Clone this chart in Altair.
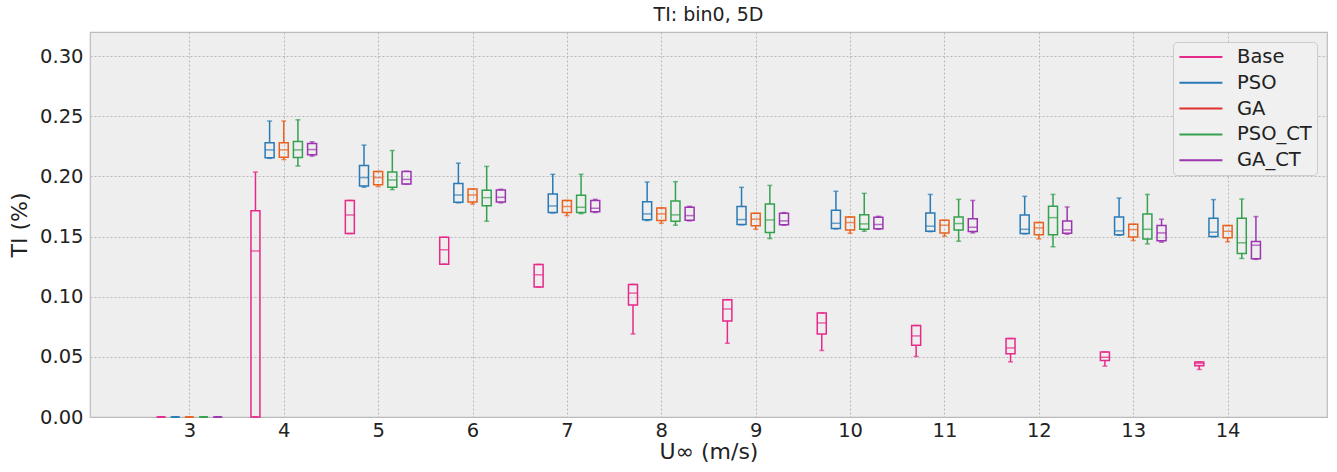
import altair as alt
import pandas as pd

speeds = [3, 4, 5, 6, 7, 8, 9, 10, 11, 12, 13, 14]
series = ["Base", "PSO", "GA", "PSO_CT", "GA_CT"]

# per series: [low whisker, q1, median, q3, high whisker] for each speed
base = [
    [0, 0, 0, 0, 0],
    [0, 0, 0.138, 0.1715, 0.2036],
    [0.1525, 0.1525, 0.168, 0.180, 0.180],
    [0.127, 0.127, 0.139, 0.1494, 0.1494],
    [0.108, 0.108, 0.1182, 0.1268, 0.1268],
    [0.069, 0.093, 0.103, 0.1102, 0.1102],
    [0.0613, 0.0798, 0.0898, 0.0975, 0.0975],
    [0.0553, 0.069, 0.0782, 0.0865, 0.0865],
    [0.0503, 0.0597, 0.0674, 0.076, 0.076],
    [0.0458, 0.0525, 0.0574, 0.0652, 0.0652],
    [0.0423, 0.047, 0.0497, 0.0541, 0.0541],
    [0.0395, 0.0425, 0.0445, 0.0458, 0.0458],
]
pso = [
    [0, 0, 0, 0, 0],
    [0.215, 0.2155, 0.222, 0.228, 0.246],
    [0.191, 0.192, 0.199, 0.209, 0.226],
    [0.178, 0.1785, 0.1845, 0.194, 0.211],
    [0.1695, 0.170, 0.1754, 0.1853, 0.2017],
    [0.1633, 0.164, 0.1688, 0.179, 0.1953],
    [0.1597, 0.160, 0.1641, 0.1749, 0.1909],
    [0.1563, 0.1566, 0.161, 0.1718, 0.1876],
    [0.1541, 0.1544, 0.1586, 0.1696, 0.185],
    [0.1522, 0.1525, 0.156, 0.168, 0.1834],
    [0.1511, 0.1514, 0.1547, 0.1663, 0.182],
    [0.1497, 0.150, 0.1536, 0.1652, 0.1807],
]
ga = [
    [0, 0, 0, 0, 0],
    [0.214, 0.216, 0.222, 0.228, 0.246],
    [0.1915, 0.193, 0.199, 0.204, 0.204],
    [0.177, 0.1787, 0.1845, 0.1895, 0.1895],
    [0.1674, 0.170, 0.1749, 0.180, 0.180],
    [0.161, 0.1633, 0.1688, 0.1738, 0.1738],
    [0.156, 0.1589, 0.1644, 0.1693, 0.1693],
    [0.1527, 0.1555, 0.1616, 0.1663, 0.1663],
    [0.1503, 0.153, 0.1594, 0.1635, 0.1635],
    [0.148, 0.1514, 0.1572, 0.1616, 0.1616],
    [0.1467, 0.1497, 0.1558, 0.1602, 0.1602],
    [0.1456, 0.1489, 0.1544, 0.1591, 0.1591],
]
pso_ct = [
    [0, 0, 0, 0, 0],
    [0.2086, 0.2157, 0.222, 0.229, 0.247],
    [0.189, 0.191, 0.197, 0.2036, 0.2215],
    [0.1627, 0.1755, 0.1823, 0.1885, 0.2083],
    [0.169, 0.170, 0.1743, 0.1843, 0.2017],
    [0.1594, 0.1627, 0.168, 0.1796, 0.1956],
    [0.1483, 0.1533, 0.1638, 0.1771, 0.1925],
    [0.1544, 0.156, 0.1605, 0.1682, 0.1859],
    [0.1461, 0.1555, 0.1608, 0.1663, 0.1809],
    [0.1415, 0.1514, 0.1657, 0.1751, 0.185],
    [0.1439, 0.148, 0.156, 0.1688, 0.185],
    [0.1318, 0.1359, 0.1448, 0.1652, 0.1812],
]
ga_ct = [
    [0, 0, 0, 0, 0],
    [0.2168, 0.218, 0.2223, 0.2273, 0.2287],
    [0.1935, 0.1937, 0.1975, 0.204, 0.2043],
    [0.178, 0.1788, 0.1826, 0.1887, 0.1893],
    [0.170, 0.1705, 0.1735, 0.180, 0.1809],
    [0.163, 0.1635, 0.1674, 0.1743, 0.1751],
    [0.1594, 0.1597, 0.163, 0.1693, 0.1699],
    [0.156, 0.1564, 0.160, 0.166, 0.1668],
    [0.153, 0.1541, 0.1577, 0.1647, 0.180],
    [0.152, 0.1527, 0.1555, 0.163, 0.1746],
    [0.1453, 0.1464, 0.153, 0.1591, 0.1644],
    [0.131, 0.1315, 0.1428, 0.1459, 0.1666],
]

# styling
dodge = {"Base": -0.3, "PSO": -0.15, "GA": 0.0, "PSO_CT": 0.15, "GA_CT": 0.3}
box_colors = ["#e7298a", "#2a7ab6", "#e8631f", "#35a04f", "#9c35b0"]
legend_colors = ["#e7298a", "#2a7ab6", "#e0302c", "#35a04f", "#9c35b0"]

rows = []
for name, stats in zip(series, [base, pso, ga, pso_ct, ga_ct]):
    for s, (lo, q1, med, q3, hi) in zip(speeds, stats):
        rows.append(dict(series=name, speed=s, pos=s + dodge[name],
                         lo=lo, q1=q1, med=med, q3=q3, hi=hi))
df = pd.DataFrame(rows)

FONT = "DejaVu Sans"
TXT = "#222222"
xscale = alt.Scale(domain=[2, 15], nice=False, zero=False)
yscale = alt.Scale(domain=[0, 0.32], nice=False)
box_scale = alt.Scale(domain=series, range=box_colors)
stroke = alt.Stroke("series:N", scale=box_scale, legend=None)
fill = alt.Fill("series:N", scale=box_scale, legend=None)

x_enc = alt.X("pos:Q", scale=xscale, title="U∞ (m/s)",
              axis=alt.Axis(values=speeds, format="d", labelFontSize=19.5, titleFontSize=22,
                            titleFontWeight="normal", labelPadding=4, titlePadding=2,
                            grid=True, gridDash=[2, 2], gridColor="#b8b8b8",
                            ticks=False, domain=False, labelColor=TXT, titleColor=TXT))
y_axis = alt.Axis(values=[0, 0.05, 0.10, 0.15, 0.20, 0.25, 0.30], format=".2f",
                  labelFontSize=19.5, titleFontSize=22, titleFontWeight="normal",
                  labelPadding=7, titlePadding=8, grid=True, gridDash=[2, 2],
                  gridColor="#b8b8b8", ticks=False, domain=False,
                  labelColor=TXT, titleColor=TXT)

chart_base = alt.Chart(df)

legend_layer = chart_base.transform_filter("false").mark_line(strokeWidth=2).encode(
    x=alt.X("pos:Q", scale=xscale),
    y=alt.Y("med:Q", scale=yscale),
    color=alt.Color("series:N", scale=alt.Scale(domain=series, range=legend_colors),
                    sort=series,
                    legend=alt.Legend(title=None, orient="top-right", offset=10,
                                      labelFontSize=19.5, labelFont=FONT, labelColor=TXT,
                                      symbolType="M-1,0H4", symbolSize=296,
                                      symbolStrokeWidth=2, labelOffset=39,
                                      rowPadding=5.8, padding=5,
                                      fillColor="#f0f0f0", strokeColor="#cccccc",
                                      cornerRadius=4)),
)

lower = chart_base.mark_rule(strokeWidth=1.5).encode(
    x=x_enc, y=alt.Y("lo:Q", scale=yscale, title="TI (%)", axis=y_axis), y2="q1:Q", stroke=stroke)
upper = chart_base.mark_rule(strokeWidth=1.5).encode(
    x="pos:Q", y=alt.Y("q3:Q", scale=yscale), y2="hi:Q", stroke=stroke)
box = chart_base.mark_bar(size=9, fillOpacity=0, strokeWidth=1.5).encode(
    x="pos:Q", y=alt.Y("q1:Q", scale=yscale), y2="q3:Q", stroke=stroke)
median = chart_base.mark_tick(orient="horizontal", size=9, thickness=1.5).encode(
    x="pos:Q", y=alt.Y("med:Q", scale=yscale), fill=fill)
cap_lo = chart_base.mark_tick(orient="horizontal", size=5, thickness=1.5).encode(
    x="pos:Q", y=alt.Y("lo:Q", scale=yscale), fill=fill)
cap_hi = chart_base.mark_tick(orient="horizontal", size=5, thickness=1.5).encode(
    x="pos:Q", y=alt.Y("hi:Q", scale=yscale), fill=fill)

chart = alt.layer(legend_layer, lower, upper, box, median, cap_lo, cap_hi).properties(
    width=1237, height=385,
    title=alt.Title("TI: bin0, 5D", fontSize=19, fontWeight="normal", font=FONT,
                    color=TXT, offset=7),
    padding={"left": 8, "top": 6, "right": 8, "bottom": 4},
).configure(font=FONT, background="white").configure_view(
    fill="#eeeeee", stroke="#bcbcbc", strokeWidth=1.2
)

chart.save("out.html", embed_options={"renderer": "svg", "actions": False})
